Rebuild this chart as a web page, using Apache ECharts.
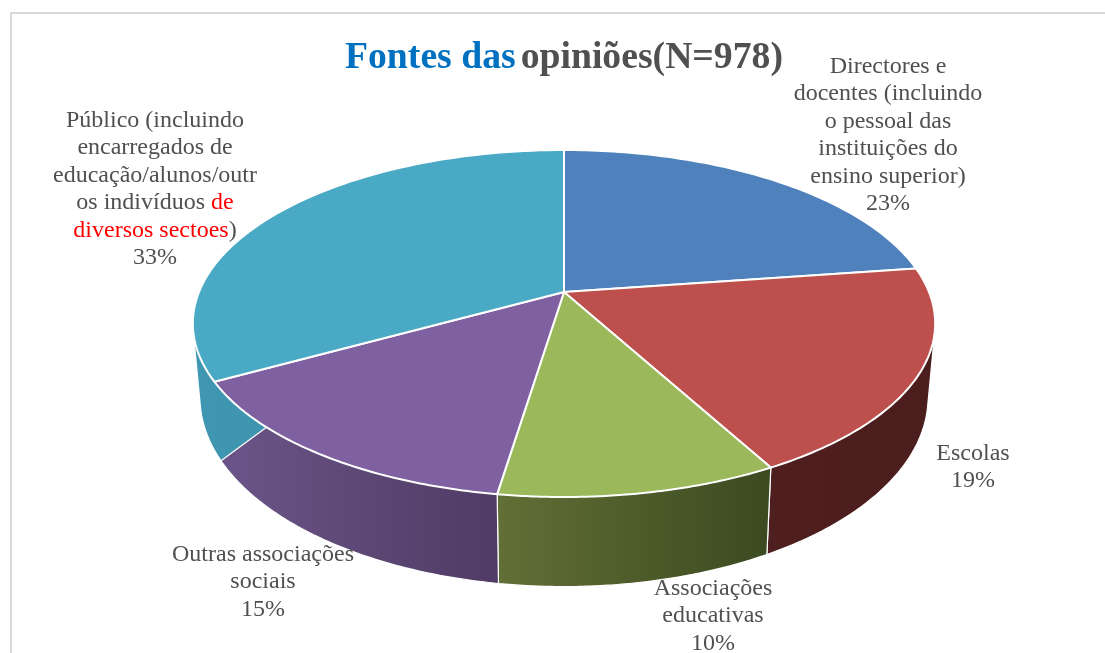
<!DOCTYPE html>
<html>
<head>
<meta charset="utf-8">
<style>html,body{margin:0;padding:0;background:#fff}#c{width:1105px;height:653px}</style>
<script src="https://cdn.jsdelivr.net/npm/echarts@6/dist/echarts.min.js"></script>
</head>
<body>
<div id="c"></div>
<script>
const categories = [
  'Directores e\ndocentes (incluindo\no pessoal das\ninstituições do\nensino superior)',
  'Escolas',
  'Associações\neducativas',
  'Outras associações\nsociais',
  'Público (incluindo\nencarregados de\neducação/alunos/outr\nos indivíduos {r|de}\n{r|diversos sectoes})'
];
const values = [22.7, 19.4, 10.3, 14.5, 33.1];
const topColors = ['#4f81bd', '#bd4f4c', '#9bb95a', '#7f60a0', '#4aaac5'];
const wallColors = [
  ['#2f4d71', '#2f4d71'],
  ['#4e1f1e', '#4b1d1c'],
  ['#626f36', '#3b4a20'],
  ['#6c5589', '#4f3b64'],
  ['#4097b2', '#3d8ba7']
];
const labelBoxes = [
  {x: 888, y: 52.5}, {x: 973, y: 439.5}, {x: 713, y: 574.5}, {x: 263, y: 540.5}, {x: 155, y: 106.5}
];

const total = values.reduce((a, b) => a + b, 0);
const CX = 564, CY = 292, K = 0.1815, A = 167.8, B = 365;
const BOT_Y = 363, BOT_A = 183, BOT_B = 358;
const cum = [0];
values.forEach((v, i) => cum.push(cum[i] + v));
const ang = p => p / total * Math.PI * 2;
function topAbs(t) {
  const w = 1 + K * Math.cos(t);
  return [CX + B * Math.sin(t) / w, CY - A * Math.cos(t) / w];
}
function botAbs(t) {
  const w = 1 + K * Math.cos(t);
  return [CX + BOT_B * Math.sin(t) / w, BOT_Y - BOT_A * Math.cos(t) / w];
}
function arc(i, fn) {
  const a = ang(cum[i]), b = ang(cum[i + 1]), n = 80, out = [];
  for (let j = 0; j <= n; j++) out.push(fn(a + (b - a) * j / n));
  return out;
}
function hull(pts) {
  const p = pts.slice().sort((a, b) => a[0] - b[0] || a[1] - b[1]);
  const cross = (o, a, b) => (a[0] - o[0]) * (b[1] - o[1]) - (a[1] - o[1]) * (b[0] - o[0]);
  const lo = [], up = [];
  p.forEach(q => {
    while (lo.length > 1 && cross(lo[lo.length - 2], lo[lo.length - 1], q) <= 0) lo.pop();
    lo.push(q);
  });
  p.slice().reverse().forEach(q => {
    while (up.length > 1 && cross(up[up.length - 2], up[up.length - 1], q) <= 0) up.pop();
    up.push(q);
  });
  return lo.slice(0, -1).concat(up.slice(0, -1));
}

function renderWall(params) {
  const i = params.dataIndex;
  const all = arc(i, topAbs).concat(arc(i, botAbs));
  const xs = all.map(p => p[0]);
  const x0 = Math.min.apply(null, xs), x1 = Math.max.apply(null, xs);
  return {
    type: 'polygon',
    shape: {points: hull(all)},
    style: {
      fill: new echarts.graphic.LinearGradient(x0, 0, x1, 0, [
        {offset: 0, color: wallColors[i][0]},
        {offset: 1, color: wallColors[i][1]}
      ], true),
      stroke: '#fff', lineWidth: 1.2, lineJoin: 'round'
    }
  };
}
function renderTop(params) {
  const i = params.dataIndex;
  return {
    type: 'polygon',
    shape: {points: [[CX, CY]].concat(arc(i, topAbs))},
    style: {fill: topColors[i], stroke: '#fff', lineWidth: 2, lineJoin: 'round'}
  };
}

const textBase = {
  fontFamily: '"Liberation Serif", serif', fontSize: 24, lineHeight: 27.5,
  fill: '#505050', align: 'center', verticalAlign: 'top'
};
const labelGraphics = categories.map((name, i) => ({
  type: 'text', x: labelBoxes[i].x, y: labelBoxes[i].y, z: 10, silent: true,
  style: Object.assign({}, textBase, {
    text: name + '\n' + Math.round(values[i]) + '%',
    rich: {r: {fill: '#ff0000', fontFamily: textBase.fontFamily, fontSize: 24, lineHeight: 27.5}}
  })
}));

const chart = echarts.init(document.getElementById('c'), null, {renderer: 'canvas', width: 1105, height: 653});
chart.setOption({
  animation: false,
  backgroundColor: '#fff',
  title: {
    text: '{a|Fontes das} {b|opiniões(N=978)}',
    left: 345, top: 39, padding: 0,
    textStyle: {
      rich: {
        a: {color: '#0070c0', fontFamily: '"Liberation Serif", serif', fontWeight: 'bold', fontSize: 37.7},
        b: {color: '#505050', fontFamily: '"Liberation Serif", serif', fontWeight: 'bold', fontSize: 37.7}
      }
    }
  },
  graphic: {elements: [
    {type: 'polyline', silent: true, shape: {points: [[11, 653], [11, 13], [1105, 13]]},
     style: {stroke: '#d9d9d9', lineWidth: 2, fill: null}}
  ].concat(labelGraphics)},
  series: [
    {type: 'custom', coordinateSystem: 'none', silent: true, z: 1, data: values, renderItem: renderWall},
    {type: 'custom', coordinateSystem: 'none', silent: true, z: 2, data: values, renderItem: renderTop}
  ]
});
</script>
</body>
</html>
